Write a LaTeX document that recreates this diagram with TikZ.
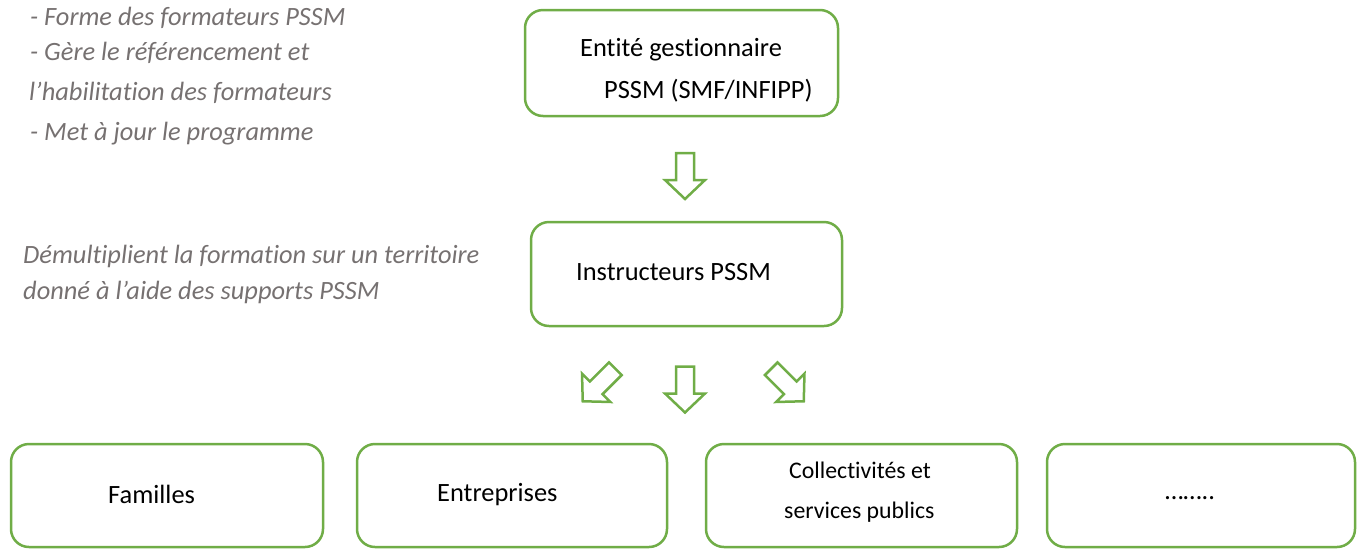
\documentclass[tikz,border=0pt]{standalone}
\usepackage{fontspec}
\setmainfont{Carlito}[Ligatures=NoCommon]
\definecolor{grn}{HTML}{70AD47}
\definecolor{gry}{HTML}{767171}
\begin{document}
\begin{tikzpicture}[x=1pt,y=-1pt,
  box/.style={draw=grn, line width=2.5pt, rounded corners=18pt, inner sep=0, fill=white},
  lbl/.style={anchor=base west, inner sep=0, font=\fontsize{26.4}{30}\selectfont},
  slbl/.style={anchor=base west, inner sep=0, font=\fontsize{23.8}{28}\selectfont},
  note/.style={anchor=base west, inner sep=0, text=gry, font=\fontsize{26.4}{30}\selectfont\itshape},
  blockarr/.pic={\draw[draw=grn, line width=2.5pt, line join=miter]
      (-9,-23) -- (9,-23) -- (9,4) -- (20,4) -- (0,23) -- (-20,4) -- (-9,4) -- cycle;}]
\path[use as bounding box] (0,0) rectangle (1366,550);

% boxes
\node[box, minimum width=313pt, minimum height=106pt] (gest) at (681.5,63) {};
\node[box, minimum width=311pt, minimum height=104pt] (instr) at (686.5,274) {};
\node[box, minimum width=312pt, minimum height=103pt] (fam) at (167,495.5) {};
\node[box, minimum width=310pt, minimum height=103pt] (ent) at (512,495.5) {};
\node[box, minimum width=311pt, minimum height=103pt] (coll) at (861.5,495.5) {};
\node[box, minimum width=308pt, minimum height=103pt] (etc) at (1201,495.5) {};

% box texts
\node[lbl] (t1) at (580,56) {Entité gestionnaire};
\node[lbl] (t2) at (604,98) {PSSM (SMF/INFIPP)};
\node[lbl] (t3) at (576,280) {Instructeurs PSSM};
\node[lbl] (t4) at (108,503) {Familles};
\node[lbl] (t5) at (437,501) {Entreprises};
\node[slbl] (t6) at (789,478) {Collectivités et};
\node[slbl] (t7) at (784,518) {services publics};
\node[lbl] (t8) at (1165,499) {……..};

% notes
\node[note] (n1) at (30,25) {- Forme des formateurs PSSM};
\node[note] (n2) at (30,60) {- Gère le référencement et};
\node[note] (n3) at (29,100) {l’habilitation des formateurs};
\node[note] (n4) at (30,140) {- Met à jour le programme};
\node[note] (n5) at (23,263) {Démultiplient la formation sur un territoire};
\node[note] (n6) at (23,299) {donné à l’aide des supports PSSM};

% block arrows
\pic (a1) at (685,176) {blockarr};
\pic (a2) at (685,389.5) {blockarr};
\pic[rotate=-45] (a3) at (599,385) {blockarr};
\pic[rotate=45] (a4) at (787.5,385) {blockarr};
\end{tikzpicture}
\end{document}
